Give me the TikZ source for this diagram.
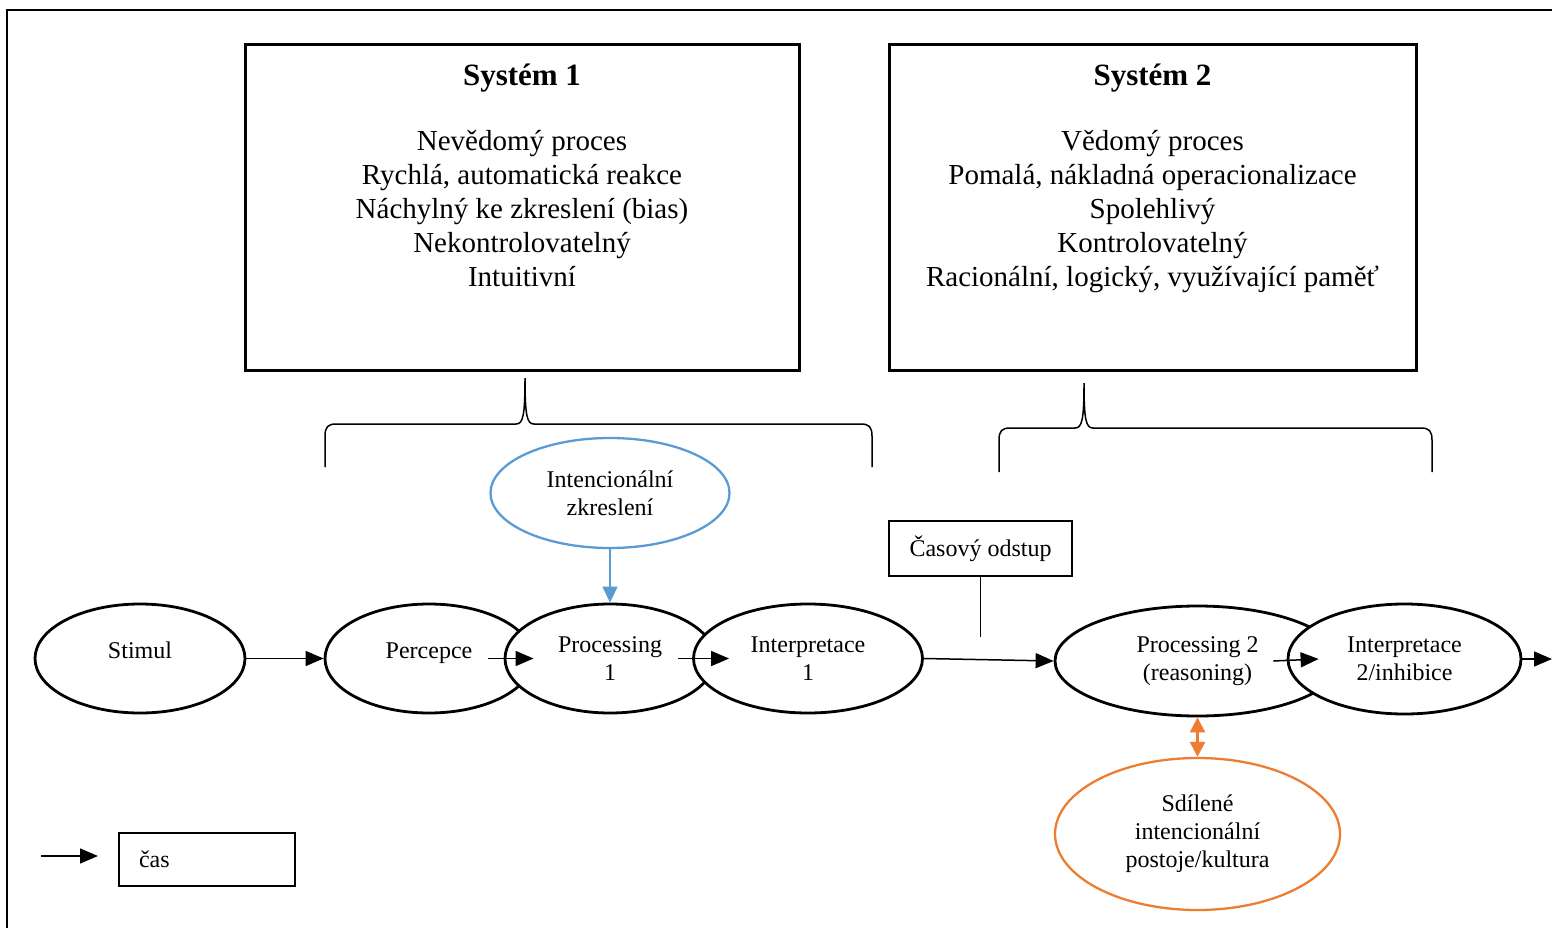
\documentclass[tikz,border=0pt]{standalone}
\usepackage{fontspec}
\setmainfont{Liberation Serif}
\usetikzlibrary{shapes.geometric,arrows.meta}
\definecolor{intentblue}{HTML}{5B9BD5}
\definecolor{sharedorange}{HTML}{ED7D31}
\def\curlybrace(#1:#2:#3)(#4:#5:#6){\draw[line width=1.5pt] (#1,#6) -- (#1,#4+12) .. controls (#1,#4+3) and (#1+3,#4) .. (#1+11,#4) -- (#2-9,#4) .. controls (#2-2,#4) and (#2,#4-8) .. (#2,#5) .. controls (#2,#4-8) and (#2+2,#4) .. (#2+9,#4) -- (#3-11,#4) .. controls (#3-3,#4) and (#3,#4+3) .. (#3,#4+12) -- (#3,#6);}
\tikzset{
	stage/.style={ellipse, draw, line width=2.8pt, fill=white, inner sep=0pt, align=center, font=\fontsize{24}{28}\selectfont},
	oneline/.style={text depth=16pt},
	flow/.style={line width=1.5pt, -{Triangle[length=18pt,width=15pt]}},
	sysbox/.style={draw, line width=3pt, minimum width=#1, minimum height=325pt, inner sep=0pt},
	systext/.style={align=center, inner sep=0pt, anchor=north, font=\fontsize{29}{34}\selectfont},
	plainbox/.style={draw, line width=1.3pt, font=\fontsize{24}{28}\selectfont}
}

\begin{document}
\begin{tikzpicture}[x=1pt, y=-1pt]
			%%%%% START %%%%%
			
			\useasboundingbox (0, 0) rectangle (1552, 928);
			\draw[line width=2.5pt] (1552, 10) -- (7, 10) -- (7, 928);
			
			\node[sysbox=554pt] (sys1) at (522, 207.5) {};
			\node[systext] (sys1text) at (522, 64) {\textbf{\fontsize{31}{34}\selectfont Systém 1}\\[31pt]Nevědomý proces\\Rychlá, automatická reakce\\Náchylný ke zkreslení (bias)\\Nekontrolovatelný\\Intuitivní};
			
			\node[sysbox=527pt] (sys2) at (1152.5, 207.5) {};
			\node[systext] (sys2text) at (1152.5, 64) {\textbf{\fontsize{31}{34}\selectfont Systém 2}\\[31pt]Vědomý proces\\Pomalá, nákladná operacionalizace\\Spolehlivý\\Kontrolovatelný\\Racionální, logický, využívající paměť};
			
			\curlybrace(325:525:872)(424:378:467)
			\curlybrace(999:1084:1432)(428:383:472)
			
			\node[stage, oneline, minimum width=210pt, minimum height=109pt] (stimul) at (140, 658.5) {Stimul};
			\node[stage, oneline, minimum width=208pt, minimum height=109pt] (percepce) at (429, 658.5) {Percepce};
			\node[stage, minimum width=210pt, minimum height=109pt] (proc1) at (610, 658.5) {Processing\\1};
			\node[stage, minimum width=229pt, minimum height=109pt] (interp1) at (808, 658.5) {Interpretace\\1};
			\node[stage, minimum width=285pt, minimum height=110pt] (proc2) at (1197.5, 661) {Processing 2\\(reasoning)};
			\node[stage, minimum width=233pt, minimum height=110pt] (interp2) at (1404.5, 659) {Interpretace\\2/inhibice};
			
			\node[stage, draw=intentblue, line width=2.3pt, minimum width=239pt, minimum height=110pt] (intent) at (610, 493) {Intencionální\\zkreslení};
			\node[stage, draw=sharedorange, line width=2.3pt, minimum width=285pt, minimum height=152pt] (shared) at (1197.5, 834) {Sdílené\\intencionální\\postoje/kultura};
			
			\node[plainbox, minimum width=183pt, minimum height=55pt] (odstup) at (980.5, 548.5) {Časový odstup};
			\coordinate (odstupend) at (980.5, 637);
			\draw[line width=1.3pt] (odstup.south) -- (odstupend);
			
			\draw[flow] (stimul.east) -- (percepce.west);
			\draw[flow] ([xshift=-46pt]percepce.east) -- ([xshift=30pt]proc1.west);
			\draw[flow] ([xshift=-38pt]proc1.east) -- ([xshift=37pt]interp1.west);
			\draw[flow] (interp1.east) -- (proc2.west);
			\draw[flow] ([xshift=-68pt]proc2.east) -- ([xshift=32pt]interp2.west);
			\coordinate (flowend) at (1552, 659);
			\draw[flow] (interp2.east) -- (flowend);
			
			\draw[line width=1.5pt, color=intentblue, -{Triangle[length=16pt,width=15pt]}] (intent.south) -- (proc1.north);
			\draw[line width=2.5pt, color=sharedorange, {Triangle[length=15pt,width=15pt]}-{Triangle[length=15pt,width=15pt]}] (proc2.south) -- (shared.north);
			
			\coordinate (casstart) at (41, 856);
			\coordinate (casend) at (98, 856);
			\draw[flow] (casstart) -- (casend);
			\node[plainbox, text width=136pt, inner xsep=20pt, minimum height=53pt, align=left] (cas) at (207, 859.5) {čas};
			
			%%%%% END %%%%%
\end{tikzpicture}
\end{document}
